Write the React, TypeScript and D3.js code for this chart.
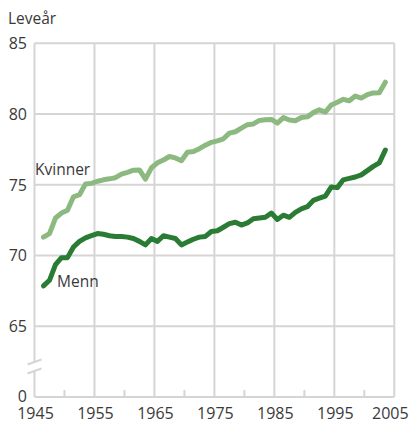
import React from "react";
import * as d3 from "d3";

const years: number[] = d3.range(1946, 2004);

const kvinner: number[] = [
  71.3, 71.55, 72.65, 73.0, 73.2, 74.15, 74.3, 75.05, 75.1, 75.25, 75.35,
  75.42, 75.5, 75.75, 75.88, 76.03, 76.05, 75.4, 76.2, 76.55, 76.75,
  77.0, 76.9, 76.7, 77.3, 77.35, 77.55, 77.8, 78.0, 78.1, 78.25,
  78.65, 78.75, 79.0, 79.25, 79.3, 79.55, 79.6, 79.62, 79.36, 79.75,
  79.58, 79.53, 79.76, 79.8, 80.1, 80.3, 80.14, 80.64, 80.83, 81.04,
  80.94, 81.27, 81.13, 81.37, 81.49, 81.5, 82.25,
];

const menn: number[] = [
  67.85, 68.25, 69.35, 69.85, 69.85, 70.6, 71.0, 71.25, 71.4, 71.55, 71.5,
  71.4, 71.35, 71.35, 71.3, 71.2, 71.0, 70.75, 71.2, 71.0, 71.4,
  71.3, 71.2, 70.75, 70.95, 71.15, 71.3, 71.35, 71.7, 71.75, 72.0,
  72.25, 72.35, 72.15, 72.3, 72.6, 72.65, 72.7, 73.0, 72.55, 72.85,
  72.7, 73.05, 73.3, 73.45, 73.9, 74.05, 74.2, 74.85, 74.8, 75.35,
  75.45, 75.55, 75.7, 76.0, 76.3, 76.55, 77.45,
];

const xTicks: number[] = [1945, 1955, 1965, 1975, 1985, 1995, 2005];
const xMinorTicks: number[] = [1950, 1960, 1970, 1980, 1990, 2000];
const yTicks: number[] = [65, 70, 75, 80, 85];
const yBase = 60; // position where "0" is shown (axis break)

const GRID = "#d5d5d5";
const TEXT = "#3a3a3a";
const FONT = "'Open Sans', 'Noto Sans', sans-serif";

export default function App() {
  const x = d3.scaleLinear().domain([1945, 2005]).range([34.5, 394.3]);
  const y = d3.scaleLinear().domain([yBase, 85]).range([397, 43.3]);

  // annual values plotted at mid-year
  const line = d3
    .line<number>()
    .x((_, i) => x(years[i] + 0.5))
    .y((d) => y(d))
    .curve(d3.curveLinear);

  const left = x(1945);
  const right = x(2005);
  const bottom = y(yBase);
  const breakY1 = 362;
  const breakY2 = 371;

  return (
    <svg
      width={413}
      height={424}
      style={{ position: "absolute", left: 0, top: 0, background: "#fff" }}
      fontFamily={FONT}
    >
      {yTicks.map((t) => (
        <line key={"h" + t} x1={left} x2={right} y1={y(t)} y2={y(t)} stroke={GRID} strokeWidth={2} />
      ))}
      {xTicks.slice(1).map((t) => (
        <line key={"v" + t} x1={x(t)} x2={x(t)} y1={y(85)} y2={bottom} stroke={GRID} strokeWidth={2} />
      ))}
      <line x1={left} x2={right} y1={bottom} y2={bottom} stroke={GRID} strokeWidth={2} />
      {xMinorTicks.map((t) => (
        <line key={"m" + t} x1={x(t)} x2={x(t)} y1={bottom} y2={bottom - 7} stroke={GRID} strokeWidth={2} />
      ))}
      <line x1={left} x2={left} y1={y(85)} y2={breakY1} stroke={GRID} strokeWidth={2} />
      <line x1={left} x2={left} y1={breakY2} y2={bottom} stroke={GRID} strokeWidth={2} />
      <line x1={left - 7} x2={left + 7} y1={breakY1 + 2.5} y2={breakY1 - 2.5} stroke={GRID} strokeWidth={2} />
      <line x1={left - 7} x2={left + 7} y1={breakY2 + 2.5} y2={breakY2 - 2.5} stroke={GRID} strokeWidth={2} />

      <path d={line(kvinner) ?? ""} fill="none" stroke="#8cb97f" strokeWidth={5} strokeLinejoin="round" strokeLinecap="round" />
      <path d={line(menn) ?? ""} fill="none" stroke="#2a7b34" strokeWidth={5} strokeLinejoin="round" strokeLinecap="round" />

      {yTicks.map((t) => (
        <text key={"yl" + t} x={27} y={y(t)} dy="0.36em" textAnchor="end" fontSize={16} fill={TEXT}>
          {t}
        </text>
      ))}
      <text x={27} y={bottom - 1} dy="0.36em" textAnchor="end" fontSize={16} fill={TEXT}>
        0
      </text>

      {xTicks.map((t) => (
        <text key={"xl" + t} x={t === 2005 ? x(t) - 4 : x(t) + 1} y={419} textAnchor="middle" fontSize={16} fill={TEXT}>
          {t}
        </text>
      ))}

      <text x={8} y={24} fontSize={15.5} fill={TEXT}>
        Leveår
      </text>
      <text x={35} y={175} fontSize={15.5} fill={TEXT}>
        Kvinner
      </text>
      <text x={57} y={287} fontSize={15.5} fill={TEXT}>
        Menn
      </text>
    </svg>
  );
}
